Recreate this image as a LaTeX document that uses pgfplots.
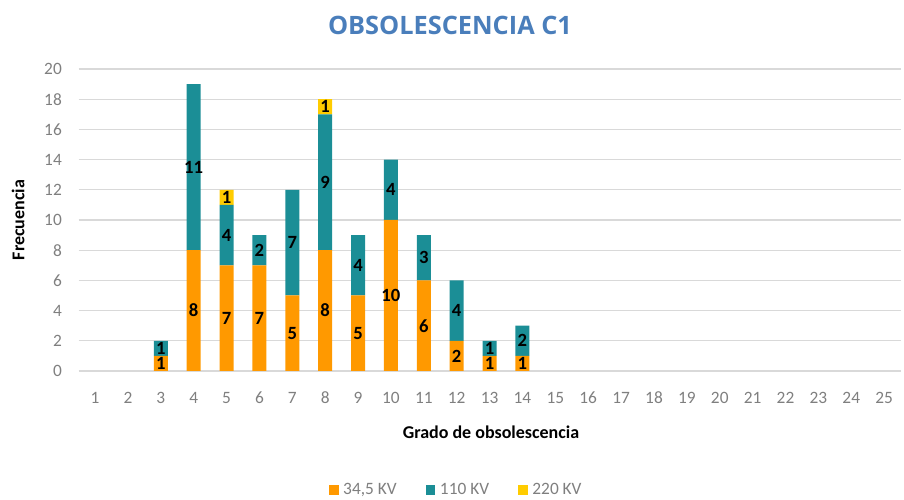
\documentclass[border=0pt]{standalone}
\usepackage{fontspec}
\setmainfont{Carlito}
\newfontfamily\titlefont{Open Sans}
\usepackage{pgfplots}
\pgfplotsset{compat=1.18}

\definecolor{cA}{HTML}{FF9900}
\definecolor{cB}{HTML}{1B8E96}
\definecolor{cC}{HTML}{FFCC00}
\definecolor{titleblue}{HTML}{4A7EBB}
\definecolor{gridgray}{HTML}{D9D9D9}
\definecolor{textgray}{HTML}{7F7F7F}

\begin{document}
\begin{tikzpicture}
\useasboundingbox (0,0) rectangle (678pt,375pt);
\begin{axis}[
  at={(58.95pt,96.75pt)}, anchor=south west,
  scale only axis, width=616.5pt, height=226.5pt,
  ybar stacked, bar width=10.5pt,
  xmin=0.5, xmax=25.5, ymin=0, ymax=20,
  xtick={1,...,25}, ytick={0,2,...,20},
  axis line style={draw=none}, tick style={draw=none},
  ymajorgrids, grid style={gridgray, line width=0.9pt},
  /pgf/number format/assume math mode=true,
  ticklabel style={font=\fontsize{13}{15}\selectfont, text=textgray},
  xticklabel style={anchor=center, yshift=-20pt},
  yticklabel style={anchor=east, inner sep=0pt, xshift=-12.4pt},
  title={OBSOLESCENCIA C1},
  title style={at={(axis description cs:0.4518,1.1457)}, anchor=center, yshift=-6pt,
    font=\titlefont\bfseries\fontsize{19}{21}\selectfont, text=titleblue},
  xlabel={Grado de obsolescencia},
  xlabel style={at={(axis description cs:0.5017,-0.202)}, anchor=center,
    font=\bfseries\fontsize{13.5}{15}\selectfont},
  ylabel={Frecuencia},
  ylabel style={at={(axis description cs:-0.0737,0.5)}, anchor=center,
    font=\bfseries\fontsize{13.5}{15}\selectfont},
  legend style={at={(axis description cs:0.46,-0.394)}, anchor=center,
    draw=none, legend columns=3, font=\fontsize{13}{15}\selectfont,
    text=textgray,
    /tikz/every odd column/.append style={column sep=1.5pt},
    /tikz/every even column/.append style={column sep=20pt}},
  legend image code/.code={\fill[#1] (0pt,-3.5pt) rectangle (7pt,3.5pt);},
  % stacked bars: the node already sits in the middle of its segment
  nodes near coords={\pgfmathfloatifflags{\pgfplotspointmeta}{0}{}{\pgfmathprintnumber{\pgfplotspointmeta}}},
  every node near coord/.append style={anchor=center, text=black,
    font=\bfseries\fontsize{14}{16}\selectfont},
]
\addplot[fill=cA, draw=none] coordinates {
  (3,1) (4,8) (5,7) (6,7) (7,5) (8,8) (9,5) (10,10) (11,6) (12,2) (13,1) (14,1)};
\addplot[fill=cB, draw=none] coordinates {
  (3,1) (4,11) (5,4) (6,2) (7,7) (8,9) (9,4) (10,4) (11,3) (12,4) (13,1) (14,2)};
\addplot[fill=cC, draw=none] coordinates {
  (3,0) (4,0) (5,1) (6,0) (7,0) (8,1) (9,0) (10,0) (11,0) (12,0) (13,0) (14,0)};
\legend{{34,5 KV}, {110 KV}, {220 KV}}
\end{axis}
\end{tikzpicture}
\end{document}
